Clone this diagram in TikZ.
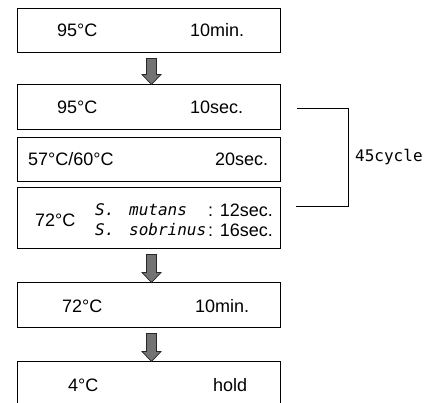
\documentclass[tikz,border=0pt]{standalone}
\usepackage{fontspec}
\setmainfont{Liberation Sans}
\setmonofont{DejaVu Sans Mono}
\usetikzlibrary{calc}
\tikzset{
  stepbox/.style={draw=black, line width=1pt, minimum width=263pt, inner sep=0pt},
  txt/.style={inner sep=0pt, font=\fontsize{18}{20}\selectfont},
  spec/.style={inner sep=0pt, font=\fontsize{16}{20}\selectfont\ttfamily\itshape},
  blk/.style={fill=black!55, draw=black!85, line width=0.7pt},
  brk/.style={draw=black, line width=1pt}
}
\newcommand\blockarrow[2]{%
  \path[blk] let \p1=($(#1.south)+(3pt,0)$), \p2=($(#2.north)+(3pt,0)$) in
    (\x1-5pt,\y1-6pt) -- (\x1+5pt,\y1-6pt) -- (\x1+5pt,\y2+9pt) -- (\x1+9.5pt,\y2+9pt)
    -- (\x1,\y2-1pt) -- (\x1-9.5pt,\y2+9pt) -- (\x1-5pt,\y2+9pt) -- cycle;}
\begin{document}
\begin{tikzpicture}[x=1pt,y=-1pt]
\useasboundingbox (0,0) rectangle (430,402);
\clip (0,0) rectangle (430,402);
% boxes
\node[stepbox, minimum height=44pt] (b1) at (148.5,30) {};
\node[stepbox, minimum height=45pt] (b2) at (148.5,106.5) {};
\node[stepbox, minimum height=44pt] (b3) at (148.5,159) {};
\node[stepbox, minimum height=61pt] (b4) at (148.5,217.5) {};
\node[stepbox, minimum height=45pt] (b5) at (148.5,304.5) {};
\node[stepbox, minimum height=60pt] (b6) at (148.5,391) {};
% texts
\node[txt, anchor=west] (t1a) at (57,30) {95°C};
\node[txt, anchor=west] (t1b) at (190,30) {10min.};
\node[txt, anchor=west] (t2a) at (57,107) {95°C};
\node[txt, anchor=west] (t2b) at (190,107) {10sec.};
\node[txt, anchor=west] (t3a) at (28,159) {57°C/60°C};
\node[txt, anchor=west] (t3b) at (215,159) {20sec.};
\node[txt, anchor=west] (t4a) at (35,220) {72°C};
\node[spec, anchor=west] (t4s1) at (95,210) {S.};
\node[spec, anchor=west] (t4b) at (129,210) {mutans};
\node[txt, anchor=east] (t4c) at (273,210) {: 12sec.};
\node[spec, anchor=west] (t4s2) at (95,230) {S.};
\node[spec, anchor=west] (t4d) at (129,230) {sobrinus};
\node[txt, anchor=east] (t4e) at (273,230) {: 16sec.};
\node[txt, anchor=west] (t5a) at (62,306) {72°C};
\node[txt, anchor=west] (t5b) at (195,306) {10min.};
\node[txt, anchor=west] (t6a) at (68,385) {4°C};
\node[txt, anchor=west] (t6b) at (213,385) {hold};
% arrows
\blockarrow{b1}{b2}
\blockarrow{b4}{b5}
\blockarrow{b5}{b6}
% bracket
\coordinate (bt) at (297,108);
\coordinate (bb) at (296,206);
\draw[brk] (bt) -- (348,108) coordinate (bc) |- (bb);
\node[inner sep=0pt, anchor=west, font=\fontsize{16}{20}\selectfont\ttfamily] (cyc) at (355,157) {45cycle};
\end{tikzpicture}
\end{document}
